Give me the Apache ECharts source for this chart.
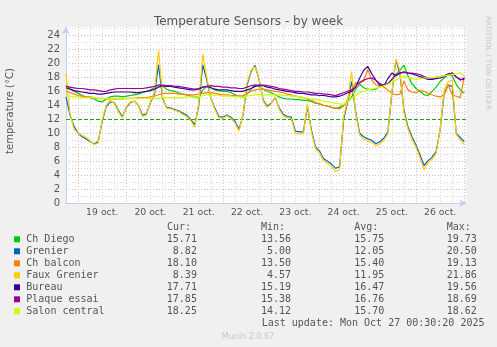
<!DOCTYPE html>
<html>
<head>
<meta charset="utf-8">
<title>Temperature Sensors - by week</title>
<script src="https://cdn.jsdelivr.net/npm/echarts@6.0.0/dist/echarts.min.js"></script>
<style>
  html, body { margin: 0; padding: 0; background: #f0f0f0; }
  #chart { width: 497px; height: 347px; }
</style>
</head>
<body>
<div id="chart"></div>
<script>
// Samples every 2 hours; hour 0 = 19 oct. 00:00
const SAMPLE_START = -6;
const SAMPLE_STEP = 2;

const dayLabels = ['19 oct.', '20 oct.', '21 oct.', '22 oct.', '23 oct.', '24 oct.', '25 oct.', '26 oct.'];

const sensorNames = ['Ch Diego', 'Grenier', 'Ch balcon', 'Faux Grenier', 'Bureau', 'Plaque essai', 'Salon central'];
const sensorColors = ['#00cc00', '#0066b3', '#ff8000', '#ffcc00', '#330099', '#990099', '#ccff00'];

const chDiego = [
  16.9, 16.4, 16.0, 15.7, 15.4, 15.2, 15.1, 14.9, 14.6, 14.5,
  14.9, 15.2, 15.3, 15.3, 15.2, 15.3, 15.4, 15.5, 15.6, 15.8,
  16.0, 16.2, 16.5, 16.9, 16.8, 16.3, 16.1, 16.0, 15.8, 15.6,
  15.5, 15.3, 15.2, 15.1, 16.2, 16.7, 16.5, 16.2, 16.1, 16.0,
  16.0, 15.8, 15.5, 15.3, 15.2, 15.6, 16.3, 16.9, 16.7, 16.3,
  16.0, 15.8, 15.5, 15.2, 15.0, 14.9, 14.9, 14.8, 14.8, 14.7,
  14.7, 14.5, 14.3, 14.2, 14.0, 13.9, 13.7, 13.56, 13.7, 14.0,
  14.5, 15.2, 16.3, 17.0, 16.5, 16.3, 16.2, 16.3, 16.7, 16.9,
  17.1, 17.7, 18.4, 19.0, 19.73, 18.2, 17.1, 16.4, 16.0, 15.5,
  15.4, 16.0, 16.6, 17.4, 17.9, 18.4, 18.2, 17.0, 16.2, 15.71
];
const grenier = [
  15.2, 12.6, 11.0, 10.0, 9.5, 9.2, 8.8, 8.5, 8.8, 11.7,
  13.8, 14.5, 14.4, 13.3, 12.4, 13.7, 14.4, 14.6, 14.0, 12.6,
  12.8, 14.4, 15.6, 19.8, 15.0, 13.7, 13.6, 13.4, 13.2, 12.9,
  12.6, 12.0, 11.2, 14.0, 19.8, 17.6, 15.0, 13.6, 12.4, 12.3,
  12.6, 12.3, 11.7, 10.6, 12.5, 16.9, 18.8, 19.7, 17.6, 14.8,
  13.9, 14.3, 15.1, 13.6, 12.7, 12.4, 12.3, 10.3, 10.2, 10.2,
  13.8, 10.5, 8.1, 7.5, 6.4, 6.0, 5.6, 5.0, 5.2, 11.9,
  14.5, 17.4, 13.1, 10.0, 9.5, 9.2, 9.0, 8.5, 8.8, 9.3,
  10.2, 15.7, 20.5, 18.5, 13.3, 10.9, 9.5, 8.3, 6.9, 5.4,
  6.1, 6.6, 7.4, 10.5, 15.7, 16.9, 16.7, 10.0, 9.4, 8.82
];
const chBalcon = [
  16.0, 15.8, 15.6, 15.4, 15.3, 15.2, 15.2, 15.1, 15.0, 15.0,
  14.9, 14.9, 14.9, 14.9, 14.9, 15.0, 15.0, 15.0, 15.1, 15.1,
  15.1, 15.2, 15.3, 15.5, 15.7, 15.7, 15.7, 15.7, 15.6, 15.6,
  15.5, 15.5, 15.5, 15.6, 15.7, 15.8, 15.8, 15.7, 15.6, 15.5,
  15.5, 15.4, 15.4, 15.3, 15.4, 15.7, 16.0, 16.2, 16.3, 16.3,
  16.2, 16.1, 16.0, 15.9, 15.8, 15.6, 15.5, 15.3, 15.2, 15.1,
  14.9, 14.7, 14.4, 14.2, 14.0, 13.9, 13.7, 13.6, 13.5, 13.9,
  14.8, 16.2, 17.2, 17.1, 17.5, 19.13, 17.6, 16.9, 16.8, 16.6,
  16.2, 15.7, 15.5, 15.6, 17.5, 16.2, 15.9, 15.8, 16.1, 16.0,
  15.7, 15.5, 15.3, 15.2, 15.5, 16.9, 15.5, 15.3, 15.1, 18.10
];
const fauxGrenier = [
  18.5, 12.8, 10.6, 10.0, 9.7, 9.4, 8.9, 8.4, 8.6, 11.9,
  14.0, 14.7, 14.3, 13.1, 12.2, 13.8, 14.5, 14.6, 13.9, 12.4,
  12.6, 14.5, 15.9, 21.86, 15.3, 13.6, 13.5, 13.3, 13.1, 12.7,
  12.4, 11.8, 10.9, 14.3, 21.3, 18.0, 15.0, 13.4, 12.2, 12.1,
  12.5, 12.1, 11.5, 10.3, 12.7, 17.2, 19.0, 19.5, 17.8, 14.6,
  13.7, 14.2, 15.2, 13.4, 12.5, 12.2, 12.1, 10.0, 9.9, 9.9,
  14.2, 10.2, 7.8, 7.2, 6.1, 5.7, 5.2, 4.57, 4.8, 12.3,
  14.8, 18.8, 12.8, 9.7, 9.2, 8.9, 8.7, 8.2, 8.5, 9.0,
  9.9, 15.9, 20.6, 19.0, 13.0, 10.6, 9.2, 8.0, 6.5, 4.8,
  5.8, 6.3, 7.1, 10.6, 16.2, 17.4, 17.6, 9.8, 9.1, 8.39
];
const bureau = [
  16.5, 16.3, 16.1, 16.0, 15.9, 15.8, 15.7, 15.7, 15.6, 15.6,
  15.7, 15.8, 15.9, 15.9, 15.9, 15.9, 15.9, 15.8, 15.8, 15.9,
  16.0, 16.1, 16.3, 16.6, 16.8, 16.7, 16.7, 16.6, 16.5, 16.4,
  16.3, 16.2, 16.2, 16.3, 16.6, 16.7, 16.5, 16.3, 16.2, 16.2,
  16.2, 16.1, 16.0, 16.0, 16.0, 16.2, 16.4, 16.7, 16.8, 16.8,
  16.6, 16.5, 16.3, 16.2, 16.1, 16.0, 15.9, 15.8, 15.7, 15.7,
  15.6, 15.5, 15.5, 15.4, 15.4, 15.3, 15.19, 15.2, 15.3, 15.5,
  15.8, 16.0, 16.6, 17.9, 19.0, 19.56, 18.5, 17.6, 16.9, 16.8,
  17.8, 18.6, 18.2, 18.6, 18.8, 18.6, 18.5, 18.3, 18.1, 17.9,
  17.7, 17.7, 17.8, 17.9, 18.1, 18.4, 18.6, 18.0, 17.7, 17.71
];
const plaqueEssai = [
  16.7, 16.6, 16.5, 16.4, 16.4, 16.3, 16.2, 16.2, 16.1, 16.0,
  16.0, 16.2, 16.3, 16.4, 16.4, 16.4, 16.4, 16.4, 16.4, 16.4,
  16.5, 16.6, 16.7, 16.9, 16.9, 16.8, 16.8, 16.7, 16.7, 16.6,
  16.5, 16.4, 16.3, 16.4, 16.6, 16.7, 16.8, 16.7, 16.7, 16.6,
  16.6, 16.5, 16.5, 16.4, 16.4, 16.6, 16.8, 16.9, 16.9, 16.9,
  16.8, 16.7, 16.6, 16.4, 16.3, 16.2, 16.1, 16.0, 16.0, 15.9,
  15.9, 15.8, 15.7, 15.7, 15.6, 15.6, 15.5, 15.38, 15.6, 15.8,
  16.0, 16.2, 16.7, 17.3, 17.6, 17.8, 17.9, 17.6, 17.1, 16.9,
  17.1, 17.7, 18.4, 18.6, 18.69, 18.6, 18.6, 18.5, 18.4, 18.1,
  17.9, 17.9, 18.0, 18.1, 18.2, 18.5, 18.6, 18.1, 17.6, 17.85
];
const salonCentral = [
  15.4, 15.3, 15.2, 15.2, 15.1, 15.1, 15.1, 15.1, 15.0, 15.0,
  15.0, 15.0, 15.0, 15.0, 15.0, 15.0, 15.0, 15.0, 15.0, 15.0,
  15.0, 15.0, 15.0, 15.0, 15.1, 15.1, 15.1, 15.1, 15.1, 15.1,
  15.2, 15.2, 15.2, 15.2, 15.4, 15.5, 15.5, 15.4, 15.4, 15.3,
  15.3, 15.3, 15.2, 15.2, 15.2, 15.3, 15.4, 15.5, 15.5, 15.5,
  15.5, 15.5, 15.5, 15.5, 15.4, 15.4, 15.3, 15.3, 15.2, 15.1,
  15.0, 14.9, 14.8, 14.7, 14.6, 14.5, 14.4, 14.3, 14.2, 14.12,
  14.5, 15.0, 15.4, 15.8, 16.0, 16.2, 16.3, 16.4, 16.6, 16.8,
  17.0, 17.3, 17.6, 17.9, 18.1, 18.0, 17.8, 17.7, 17.8, 17.9,
  17.9, 18.0, 18.0, 18.1, 18.2, 18.3, 18.4, 18.5, 18.62, 18.25
];

const sensorValues = [chDiego, grenier, chBalcon, fauxGrenier, bureau, plaqueEssai, salonCentral];

// Legend statistics
const curValues = ['15.71', '8.82', '18.10', '8.39', '17.71', '17.85', '18.25'];
const minValues = ['13.56', '5.00', '13.50', '4.57', '15.19', '15.38', '14.12'];
const avgValues = ['15.75', '12.05', '15.40', '11.95', '16.47', '16.76', '15.70'];
const maxValues = ['19.73', '20.50', '19.13', '21.86', '19.56', '18.69', '18.62'];

const warningLevel = 12;
const lastUpdate = 'Last update: Mon Oct 27 00:30:20 2025';

const chart = echarts.init(document.getElementById('chart'), null, { renderer: 'canvas' });

const MINOR = '#d6d6d6';
const MAJOR = '#ecb0b0';
const AXIS = '#c5ccf2';
const TEXT = '#555555';
const MONO = '"DejaVu Sans Mono", monospace';
const SANS = '"DejaVu Sans", sans-serif';

const series = sensorNames.map((name, k) => {
  const s = {
    name: name,
    type: 'line',
    showSymbol: false,
    symbol: 'none',
    smooth: false,
    lineStyle: { color: sensorColors[k], width: 1.2 },
    itemStyle: { color: sensorColors[k] },
    z: 2 + k,
    data: sensorValues[k].map((v, i) => [SAMPLE_START + i * SAMPLE_STEP, v])
  };
  if (k === 0) {
    s.markLine = {
      silent: true,
      symbol: 'none',
      label: { show: false },
      lineStyle: { color: '#11aa11', type: [4, 2], width: 1 },
      data: [{ yAxis: warningLevel }]
    };
  }
  return s;
});

// Legend block: swatches, names and statistics columns
const graphics = [];
const rowTop = 239.3, rowGap = 12;
const headers = [['Cur:', 167], ['Min:', 261], ['Avg:', 354.3], ['Max:', 446.7]];
headers.forEach(h => graphics.push({
  type: 'text', x: h[1], y: 227.3,
  style: { text: h[0], font: '10px ' + MONO, fill: TEXT, align: 'left', verticalAlign: 'middle' }
}));
const columns = [[curValues, 196.9], [minValues, 291], [avgValues, 384.3], [maxValues, 476.8]];
sensorNames.forEach((name, i) => {
  const y = rowTop + i * rowGap;
  graphics.push({
    type: 'rect', shape: { x: 14, y: y - 3, width: 6, height: 6 },
    style: { fill: sensorColors[i] }
  });
  graphics.push({
    type: 'text', x: 26.3, y: y,
    style: { text: name, font: '10px ' + MONO, fill: TEXT, align: 'left', verticalAlign: 'middle' }
  });
  columns.forEach(c => graphics.push({
    type: 'text', x: c[1], y: y,
    style: { text: c[0][i], font: '10px ' + MONO, fill: TEXT, align: 'right', verticalAlign: 'middle' }
  }));
});
graphics.push({
  type: 'text', x: 261.7, y: 323.3,
  style: { text: lastUpdate, font: '10px ' + MONO, fill: TEXT, align: 'left', verticalAlign: 'middle' }
});
// Axis title
graphics.push({
  type: 'text', x: 10.5, y: 111, rotation: Math.PI / 2,
  style: { text: 'temperature (°C)', font: '10px ' + SANS, fill: TEXT, align: 'center', verticalAlign: 'middle' }
});
// Side credit and footer
graphics.push({
  type: 'text', x: 487.5, y: 63, rotation: -Math.PI / 2,
  style: { text: 'RRDTOOL / TOBI OETIKER', font: '7.3px ' + SANS, fill: '#c8c8c8', align: 'center', verticalAlign: 'middle' }
});
graphics.push({
  type: 'text', x: 248, y: 336.5,
  style: { text: 'Munin 2.0.67', font: '8px ' + SANS, fill: '#c8c8c8', align: 'center', verticalAlign: 'middle' }
});

const option = {
  animation: false,
  backgroundColor: '#f0f0f0',
  title: {
    text: 'Temperature Sensors - by week',
    left: 'center',
    top: 11,
    textStyle: { fontFamily: SANS, fontSize: 12, fontWeight: 'normal', color: TEXT }
  },
  grid: {
    left: 66, right: 30.7, top: 26.9, bottom: 143.7,
    show: true, backgroundColor: '#ffffff', borderWidth: 0
  },
  xAxis: {
    type: 'value',
    min: -6, max: 193, interval: 6,
    axisLine: {
      show: true, onZero: false, symbol: ['none', 'arrow'], symbolSize: [6, 7],
      lineStyle: { color: AXIS, width: 1 }
    },
    axisTick: { show: false },
    axisLabel: {
      color: TEXT, fontFamily: SANS, fontSize: 9.3, margin: 5,
      formatter: v => {
        const d = (v - 12) / 24;
        return Number.isInteger(d) && d >= 0 && d < dayLabels.length ? dayLabels[d] : '';
      }
    },
    splitLine: {
      show: true, showMaxLine: false,
      lineStyle: { color: [MINOR, MAJOR, MINOR, MINOR], type: [1, 2], width: 1 }
    }
  },
  yAxis: {
    type: 'value',
    min: 0, max: 25.2, interval: 1,
    axisLine: {
      show: true, onZero: false, symbol: ['none', 'arrow'], symbolSize: [6, 7],
      lineStyle: { color: AXIS, width: 1 }
    },
    axisTick: { show: false },
    axisLabel: {
      color: TEXT, fontFamily: SANS, fontSize: 10, margin: 6,
      formatter: v => (Number.isInteger(v) && v % 2 === 0 ? String(v) : '')
    },
    splitLine: {
      show: true, showMaxLine: false,
      lineStyle: { color: [MAJOR, MINOR], type: [1, 2], width: 1 }
    }
  },
  series: series,
  graphic: graphics
};

chart.setOption(option);
</script>
</body>
</html>
